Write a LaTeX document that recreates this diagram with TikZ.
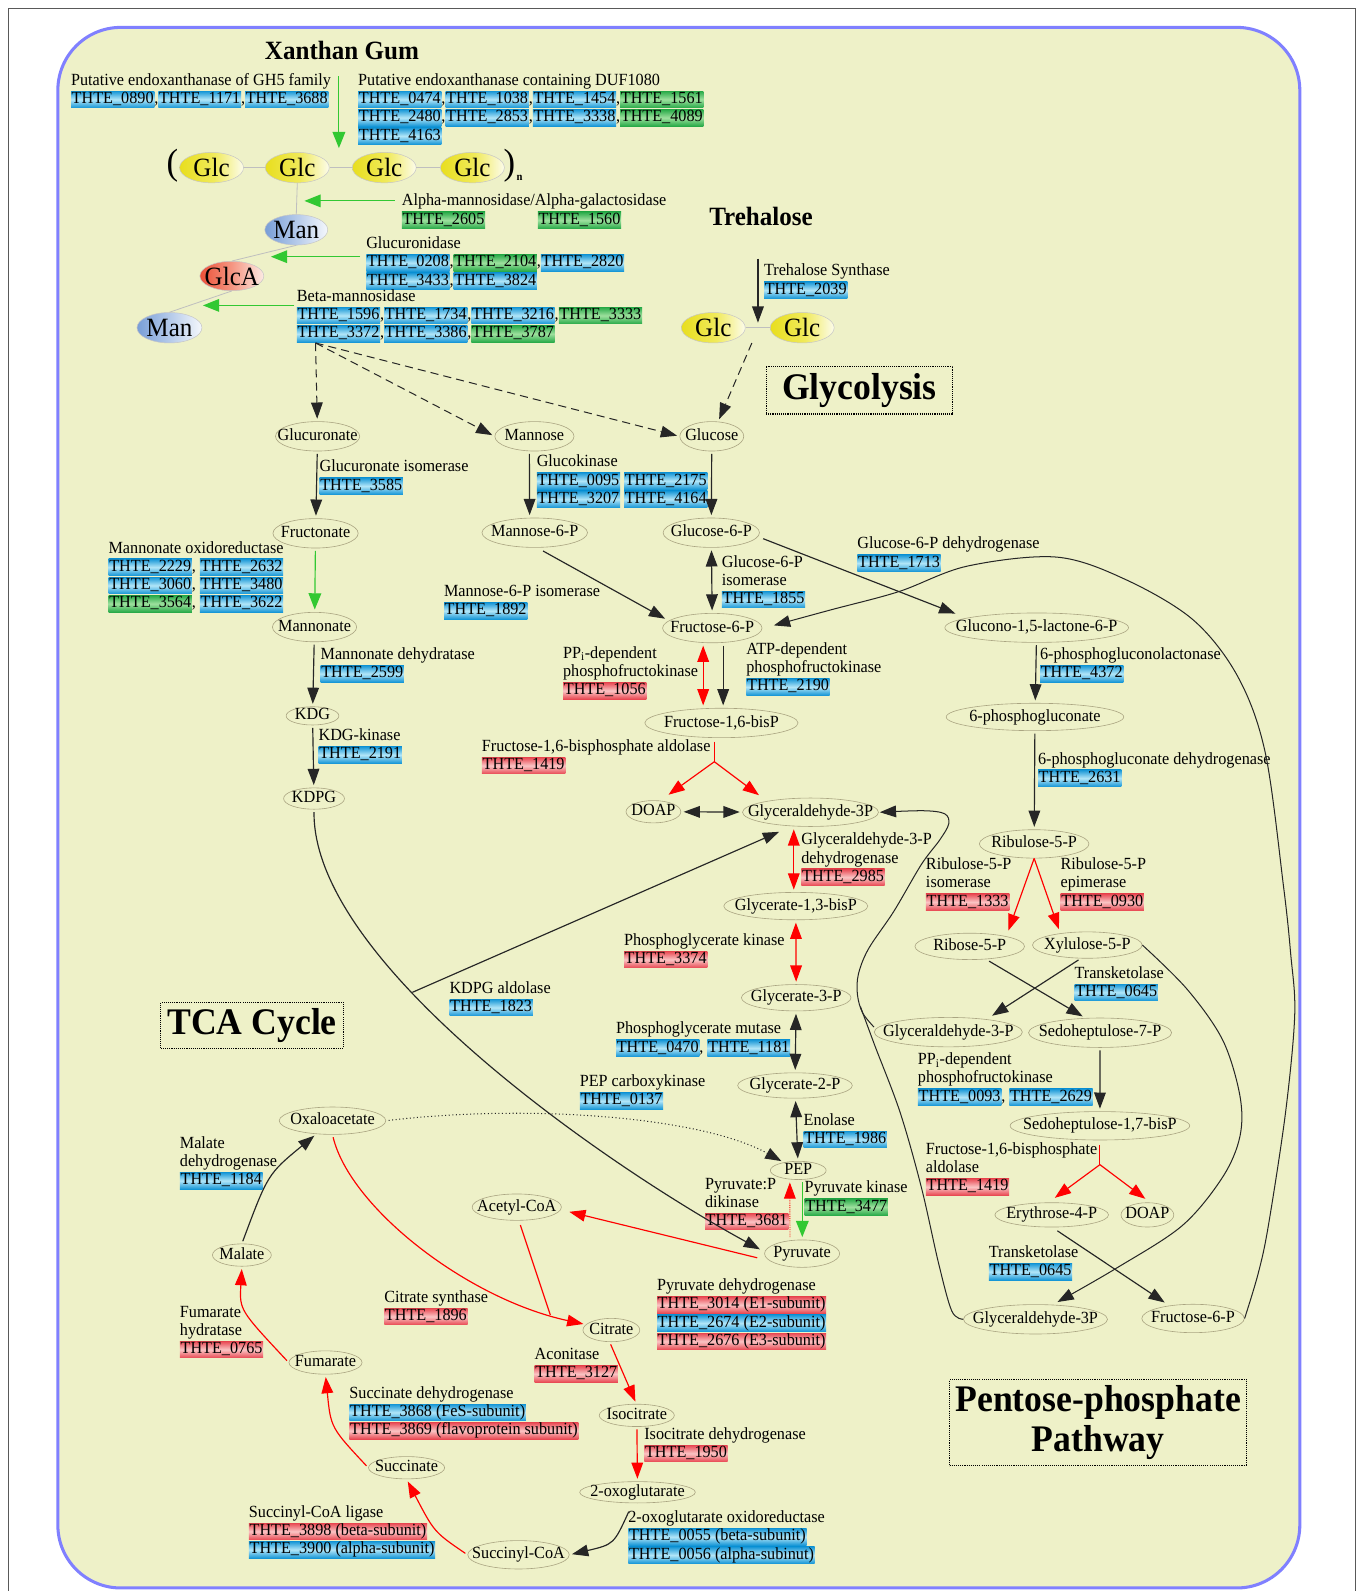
\documentclass[tikz,border=0pt]{standalone}
\usepackage{fontspec}
\setmainfont{Liberation Serif}[FakeStretch=0.95]
\usetikzlibrary{arrows.meta,shapes.geometric,calc}

\definecolor{bgc}{RGB}{238,241,200}
\definecolor{framec}{RGB}{128,128,255}
\definecolor{ellc}{RGB}{170,165,130}
\definecolor{gB}{RGB}{22,150,214}
\definecolor{gBl}{RGB}{178,230,248}
\definecolor{gR}{RGB}{232,72,82}
\definecolor{gRl}{RGB}{250,196,196}
\definecolor{gG}{RGB}{40,170,72}
\definecolor{gGl}{RGB}{158,224,158}
\definecolor{grn}{RGB}{50,200,50}
\definecolor{glcY}{RGB}{232,222,30}
\definecolor{glcY2}{RGB}{240,234,90}
\definecolor{glcW}{RGB}{252,252,235}
\definecolor{manB}{RGB}{120,158,215}
\definecolor{manB2}{RGB}{185,205,235}
\definecolor{manW}{RGB}{245,248,252}
\definecolor{glcaR}{RGB}{235,80,55}
\definecolor{glcaR2}{RGB}{245,150,130}
\definecolor{glcaW}{RGB}{252,235,228}

\pgfdeclarehorizontalshading{glcsh}{100bp}{color(0bp)=(glcY); color(25bp)=(glcY); color(52bp)=(glcY2); color(75bp)=(glcW); color(100bp)=(glcW)}
\pgfdeclarehorizontalshading{mansh}{100bp}{color(0bp)=(manB); color(25bp)=(manB); color(52bp)=(manB2); color(75bp)=(manW); color(100bp)=(manW)}
\pgfdeclarehorizontalshading{glcash}{100bp}{color(0bp)=(glcaR); color(25bp)=(glcaR); color(50bp)=(glcaR2); color(75bp)=(glcaW); color(100bp)=(glcaW)}

\newcommand{\lblfont}{\fontsize{16.8pt}{18pt}\selectfont}
\newcommand{\sugfont}{\fontsize{26pt}{28pt}\selectfont}
\newcommand{\ttlfont}{\fontsize{37pt}{39pt}\selectfont\bfseries}
\newcommand{\hdfont}{\fontsize{26pt}{28pt}\selectfont\bfseries}
\newcommand{\geneX}[2]{\tikz[baseline=(gbx.base)]\node[genebox,#1](gbx){THTE\_#2};}
\newcommand{\geneB}[1]{\geneX{gblue}{#1}}
\newcommand{\geneR}[1]{\geneX{gred}{#1}}
\newcommand{\geneG}[1]{\geneX{ggreen}{#1}}

\tikzset{
 genebox/.style={rectangle, anchor=base, inner xsep=0.7pt, inner ysep=0.6pt, outer sep=0pt, text height=11.6pt, text depth=3.6pt, draw=none},
 gblue/.style={top color=gB, bottom color=gB, middle color=gBl},
 gred/.style={top color=gR, bottom color=gR, middle color=gRl},
 ggreen/.style={top color=gG, bottom color=gG, middle color=gGl},
 lbl/.style={anchor=north west, inner sep=0pt, outer sep=0pt, align=left, font=\lblfont, yshift=12.6pt},
 met/.style={ellipse, draw=ellc, line width=0.6pt, font=\lblfont, inner xsep=-40pt, inner ysep=-8pt, text height=11pt, text depth=3pt, minimum height=28pt},
 sugar/.style={ellipse, draw=gray!45, line width=0.5pt, font=\sugfont, inner xsep=-20pt, inner ysep=-10pt, minimum width=63pt, minimum height=30pt, shade},
 ttlbox/.style={draw=black, densely dotted, line width=1.1pt, font=\ttlfont, inner sep=0pt, align=center},
 arr/.style={draw=black!85, line width=1.15pt, -{Triangle[length=16pt,width=11.5pt]}, shorten >=2.5pt, shorten <=2.5pt},
 darr/.style={arr, {Triangle[length=16pt,width=11.5pt]}-{Triangle[length=16pt,width=11.5pt]}},
 redarr/.style={arr, draw=red},
 reddarr/.style={darr, draw=red},
 grnarr/.style={arr, draw=grn, -{Triangle[length=16pt,width=12.5pt]}},
 dasharr/.style={arr, dash pattern=on 8pt off 5pt, line width=1pt},
 dotarr/.style={arr, line width=1pt, dash pattern=on 1pt off 2.5pt},
 reddot/.style={arr, draw=red, line width=0.8pt, densely dotted},
 redline/.style={draw=red, line width=1.15pt},
 blkline/.style={draw=black!85, line width=1.1pt},
 glink/.style={draw=gray!50, line width=0.8pt},
}

\begin{document}
\begin{tikzpicture}[x=1pt,y=-1pt]
\useasboundingbox (0,0) rectangle (1340,1568);
\fill[white] (0,0) rectangle (1340,1568);
\draw[draw=black!65, line width=1pt] (8,1568) -- (8,8) -- (1336,8) -- (1336,1568);
\draw[line width=3pt, draw=framec, fill=bgc, rounded corners=62pt] (57,27) rectangle (1281,1565);

% ---------- titles ----------
\node[font=\hdfont] (txg) at (337,50) {Xanthan Gum};
\node[font=\hdfont] (ttre) at (750,213) {Trehalose};
\node[ttlbox, minimum width=184pt, minimum height=47pt] (tglyc) at (847,384.5) {Glycolysis};
\node[ttlbox, minimum width=180pt, minimum height=45pt] (ttca) at (248.5,1010.4) {TCA Cycle};
\node[ttlbox, minimum width=293pt, minimum height=85pt] (tppp) at (1082.3,1402.2) {Pentose-phosphate\\Pathway};

% ---------- xanthan sugars ----------
\node[font=\fontsize{36pt}{38pt}\selectfont, inner sep=0pt] (lpar) at (170,163) {(};
\node[font=\fontsize{36pt}{38pt}\selectfont, inner sep=0pt] (rpar) at (502,163) {)};
\node[font=\bfseries\fontsize{11pt}{12pt}\selectfont, inner sep=0pt] (nsub) at (512,175) {n};
\node[sugar, shading=glcsh] (x1) at (208.5,165.2) {Glc};
\node[sugar, shading=glcsh] (x2) at (293,165.2) {Glc};
\node[sugar, shading=glcsh] (x3) at (378.7,165.2) {Glc};
\node[sugar, shading=glcsh] (x4) at (465.6,165.2) {Glc};
\node[sugar, shading=mansh, minimum width=62pt] (xm1) at (292,226.5) {Man};
\node[sugar, shading=glcash, minimum height=29pt] (xga) at (228.5,272) {GlcA};
\node[sugar, shading=mansh, minimum width=64pt] (xm2) at (167,323) {Man};
\node[sugar, shading=glcsh] (tg1) at (703,323) {Glc};
\node[sugar, shading=glcsh] (tg2) at (790.6,323) {Glc};

\draw[glink] (x1.east) -- (x2.west);
\draw[glink] (x2.east) -- (x3.west);
\draw[glink] (x3.east) -- (x4.west);
\draw[glink] (x2.south) -- (xm1.north);
\draw[glink] (xm1.south) -- (xga.north);
\draw[glink] (xga.south) -- (xm2.north);
\draw[glink] (tg1.east) -- (tg2.west);

% ---------- metabolites ----------
\node[met,minimum width=83pt,minimum height=29pt] (glcn) at (313,430) {Glucuronate};
\node[met,minimum width=78pt,minimum height=29pt] (man) at (526.7,430) {Mannose};
\node[met,minimum width=63pt,minimum height=29pt] (glu) at (701.5,430) {Glucose};
\node[met,minimum width=84pt,minimum height=29pt] (frn) at (311,525.6) {Fructonate};
\node[met,minimum width=104pt,minimum height=29pt] (m6p) at (527,525) {Mannose-6-P};
\node[met,minimum width=95pt,minimum height=29pt] (g6p) at (701,525) {Glucose-6-P};
\node[met,minimum width=83pt,minimum height=29pt] (mnn) at (310,618) {Mannonate};
\node[met,minimum width=98pt,minimum height=29pt] (f6p) at (702,619) {Fructose-6-P};
\node[met,minimum width=52pt,minimum height=18pt] (kdg) at (308,705.5) {KDG};
\node[met,minimum width=60pt,minimum height=21pt] (kdpg) at (309.5,787) {KDPG};
\node[met,minimum width=151pt,minimum height=29pt] (f16) at (711,712.5) {Fructose-1,6-bisP};
\node[met,minimum width=54pt,minimum height=22pt] (doap) at (644,800) {DOAP};
\node[met,minimum width=134pt,minimum height=28pt] (gap) at (798.8,800.5) {Glyceraldehyde-3P};
\node[met,minimum width=142pt,minimum height=27pt] (g13) at (784.3,893) {Glycerate-1,3-bisP};
\node[met,minimum width=108pt,minimum height=26pt] (g3p) at (784.7,983.3) {Glycerate-3-P};
\node[met,minimum width=113pt,minimum height=25pt] (g2p) at (783.5,1069.8) {Glycerate-2-P};
\node[met,minimum width=55pt,minimum height=18pt] (pep) at (786.7,1153.5) {PEP};
\node[met,minimum width=74pt,minimum height=27pt] (pyr) at (790.5,1235.5) {Pyruvate};
\node[met,minimum width=181pt,minimum height=29pt] (glcl) at (1021.7,618.6) {Glucono-1,5-lactone-6-P};
\node[met,minimum width=175pt,minimum height=27pt] (pg) at (1020,706.6) {6-phosphogluconate};
\node[met,minimum width=108pt,minimum height=28pt] (ru5p) at (1019.2,831.7) {Ribulose-5-P};
\node[met,minimum width=108pt,minimum height=26pt] (r5p) at (955.7,932.7) {Ribose-5-P};
\node[met,minimum width=108pt,minimum height=26pt] (x5p) at (1071.6,931.4) {Xylulose-5-P};
\node[met,minimum width=146pt,minimum height=29pt] (gapa) at (934.6,1017.2) {Glyceraldehyde-3-P};
\node[met,minimum width=141pt,minimum height=29pt] (s7p) at (1084.2,1017.8) {Sedoheptulose-7-P};
\node[met,minimum width=177pt,minimum height=28pt] (s17) at (1084,1109.5) {Sedoheptulose-1,7-bisP};
\node[met,minimum width=112pt,minimum height=24pt] (e4p) at (1036.5,1197.3) {Erythrose-4-P};
\node[met,minimum width=52pt,minimum height=24pt] (doapb) at (1130.8,1197.3) {DOAP};
\node[met,minimum width=142pt,minimum height=29pt] (gapb) at (1020.5,1300.2) {Glyceraldehyde-3P};
\node[met,minimum width=101pt,minimum height=28pt] (f6pb) at (1175.8,1299.4) {Fructose-6-P};
\node[met,minimum width=105pt,minimum height=27pt] (oaa) at (327.7,1104.5) {Oxaloacetate};
\node[met,minimum width=88pt,minimum height=26pt] (acoa) at (509.3,1189.7) {Acetyl-CoA};
\node[met,minimum width=56pt,minimum height=23pt] (cit) at (602.5,1310.8) {Citrate};
\node[met,minimum width=74pt,minimum height=22pt] (icit) at (627.6,1394.9) {Isocitrate};
\node[met,minimum width=114pt,minimum height=21pt] (og) at (628.3,1470.7) {2-oxoglutarate};
\node[met,minimum width=100pt,minimum height=28pt] (scoa) at (511,1532.3) {Succinyl-CoA};
\node[met,minimum width=75pt,minimum height=22pt] (suc) at (400.7,1446.5) {Succinate};
\node[met,minimum width=72pt,minimum height=23pt] (fum) at (320.8,1342.8) {Fumarate};
\node[met,minimum width=58pt,minimum height=22pt] (mal) at (238.4,1236.9) {Malate};

% ---------- enzyme labels ----------
\node[lbl] (lgh5) at (70,84) {\strut Putative endoxanthanase of GH5 family\\\geneB{0890},\geneB{1171},\geneB{3688}};
\node[lbl] (lduf) at (353,84) {\strut Putative endoxanthanase containing DUF1080\\\geneB{0474},\geneB{1038},\geneB{1454},\geneG{1561}\\\geneB{2480},\geneB{2853},\geneB{3338},\geneG{4089}\\\geneB{4163}};
\node[lbl] (lamg) at (396,203) {\strut Alpha-mannosidase/Alpha-galactosidase\\\geneG{2605}\hspace{52pt}\geneG{1560}};
\node[lbl] (lgcu) at (361,245) {\strut Glucuronidase\\\geneB{0208},\geneG{2104},\geneB{2820}\\\geneB{3433},\geneB{3824}};
\node[lbl] (lbman) at (292.5,297) {\strut Beta-mannosidase\\\geneB{1596},\geneB{1734},\geneB{3216},\geneG{3333}\\\geneB{3372},\geneB{3386},\geneG{3787}};
\node[lbl] (ltre) at (753,272) {\strut Trehalose Synthase\\\geneB{2039}};
\node[lbl] (lgci) at (315,465) {\strut Glucuronate isomerase\\\geneB{3585}};
\node[lbl] (lmor) at (107,545) {\strut Mannonate oxidoreductase\\\geneB{2229}, \geneB{2632}\\\geneB{3060}, \geneB{3480}\\\geneG{3564}, \geneB{3622}};
\node[lbl] (lmdh) at (316,650) {\strut Mannonate dehydratase\\\geneB{2599}};
\node[lbl] (lkdgk) at (314,730) {\strut KDG-kinase\\\geneB{2191}};
\node[lbl] (lkdpga) at (443,979) {\strut KDPG aldolase\\\geneB{1823}};
\node[lbl] (lgk) at (529,460) {\strut Glucokinase\\\geneB{0095}\hspace{4pt}\geneB{2175}\\\geneB{3207}\hspace{4pt}\geneB{4164}};
\node[lbl] (lm6pi) at (437.6,588) {\strut Mannose-6-P isomerase\\\geneB{1892}};
\node[lbl] (lg6pi) at (711.5,559) {\strut Glucose-6-P\\isomerase\\\geneB{1855}};
\node[lbl] (lg6pdh) at (845,541) {\strut Glucose-6-P dehydrogenase\\\geneB{1713}};
\node[lbl] (lpfk1) at (555,648.7) {\strut PP\textsubscript{i}-dependent\\phosphofructokinase\\\geneR{1056}};
\node[lbl] (lpfk2) at (735.6,645) {\strut ATP-dependent\\phosphofructokinase\\\geneB{2190}};
\node[lbl] (lald1) at (475,740.6) {\strut Fructose-1,6-bisphosphate aldolase\\\geneR{1419}};
\node[lbl] (lgapdh) at (789.8,832.6) {\strut Glyceraldehyde-3-P\\dehydrogenase\\\geneR{2985}};
\node[lbl] (lpgk) at (615,931.7) {\strut Phosphoglycerate kinase\\\geneR{3374}};
\node[lbl] (lpgm) at (607.2,1019) {\strut Phosphoglycerate mutase\\\geneB{0470}, \geneB{1181}};
\node[lbl] (lpepck) at (571.4,1071) {\strut PEP carboxykinase\\\geneB{0137}};
\node[lbl] (leno) at (792,1109) {\strut Enolase\\\geneB{1986}};
\node[lbl] (lppdk) at (694.8,1172) {\strut Pyruvate:P\\dikinase\\\geneR{3681}};
\node[lbl] (lpk) at (793,1175.5) {\strut Pyruvate kinase\\\geneG{3477}};
\node[lbl] (lpdh) at (647.5,1272) {\strut Pyruvate dehydrogenase\\\geneR{3014 (E1-subunit)}\\\geneB{2674 (E2-subunit)}\\\geneR{2676 (E3-subunit)}};
\node[lbl] (l6pgl) at (1025,650) {\strut 6-phosphogluconolactonase\\\geneB{4372}};
\node[lbl] (l6pgdh) at (1023,753) {\strut 6-phosphogluconate dehydrogenase\\\geneB{2631}};
\node[lbl] (lrpi) at (912.6,857) {\strut Ribulose-5-P\\isomerase\\\geneR{1333}};
\node[lbl] (lrpe) at (1045.3,857) {\strut Ribulose-5-P\\epimerase\\\geneR{0930}};
\node[lbl] (ltk1) at (1059,964) {\strut Transketolase\\\geneB{0645}};
\node[lbl] (lpfk3) at (904.7,1049.3) {\strut PP\textsubscript{i}-dependent\\phosphofructokinase\\\geneB{0093}, \geneB{2629}};
\node[lbl] (lald2) at (912.5,1137.7) {\strut Fructose-1,6-bisphosphate\\aldolase\\\geneR{1419}};
\node[lbl] (ltk2) at (974.6,1239.3) {\strut Transketolase\\\geneB{0645}};
\node[lbl] (lcs) at (378.7,1283.5) {\strut Citrate synthase\\\geneR{1896}};
\node[lbl] (lacn) at (526.9,1340) {\strut Aconitase\\\geneR{3127}};
\node[lbl] (lidh) at (635,1418.4) {\strut Isocitrate dehydrogenase\\\geneR{1950}};
\node[lbl] (logor) at (619.3,1500.6) {\strut 2-oxoglutarate oxidoreductase\\\geneB{0055 (beta-subunit)}\\\geneB{0056 (alpha-subinut)}};
\node[lbl] (lscl) at (245.3,1495.3) {\strut Succinyl-CoA ligase\\\geneR{3898 (beta-subunit)}\\\geneB{3900 (alpha-subunit)}};
\node[lbl] (lsdh) at (344.4,1378) {\strut Succinate dehydrogenase\\\geneB{3868 (FeS-subunit)}\\\geneR{3869 (flavoprotein subunit)}};
\node[lbl] (lfum) at (177.3,1298.1) {\strut Fumarate\\hydratase\\\geneR{0765}};
\node[lbl] (lmdh2) at (177.3,1131.6) {\strut Malate\\dehydrogenase\\\geneB{1184}};

% ---------- xanthan / trehalose connectors ----------
\coordinate (ga1s) at (334,75);  \coordinate (ga1e) at (334,146);
\coordinate (ga2s) at (389,198); \coordinate (ga2e) at (300,198);
\coordinate (ga3s) at (355,253); \coordinate (ga3e) at (267,253);
\coordinate (ga4s) at (290,301); \coordinate (ga4e) at (200,301);
\draw[grnarr, shorten <=0pt, shorten >=0pt] (ga1s) -- (ga1e);
\draw[grnarr, shorten <=0pt, shorten >=0pt] (ga2s) -- (ga2e);
\draw[grnarr, shorten <=0pt, shorten >=0pt] (ga3s) -- (ga3e);
\draw[grnarr, shorten <=0pt, shorten >=0pt] (ga4s) -- (ga4e);
\coordinate (dsrc) at (311,338);
\draw[dasharr, shorten <=0pt] (dsrc) -- (glcn);
\draw[dasharr, shorten <=0pt] (dsrc) -- (man.west);
\draw[dasharr, shorten <=0pt] (dsrc) -- (glu.west);
\coordinate (tas) at (747,255); \coordinate (tae) at (747,318);
\draw[arr, shorten <=0pt, shorten >=0pt] (tas) -- (tae);
\coordinate (tdash) at (741,338);
\draw[dasharr, shorten <=0pt] (tdash) -- (glu);

% ---------- glycolysis ----------
\draw[arr] (glcn) -- (frn);
\draw[grnarr] (frn) -- (mnn);
\draw[arr] (mnn) -- (kdg);
\draw[arr] (kdg) -- (kdpg);
\draw[arr] (kdpg.south) .. controls (308,950) and (600,1150) .. ($(pyr.west)+(-2,-3)$) coordinate[pos=0.37] (split);
\draw[arr, shorten <=0pt, shorten >=0pt] (split) -- ($(gap.south)+(-31,5)$);
\draw[arr] ($(man.south)+(-5,0)$) -- ($(m6p.north)+(-5,0)$);
\draw[arr] (glu) -- (g6p);
\draw[arr] ($(m6p.south)+(6,2)$) -- ($(f6p.west)+(5,-8)$);
\draw[darr] (g6p) -- (f6p);
\draw[arr] ($(g6p.east)+(1,5)$) -- ($(glcl.west)+(13,-13)$);
\draw[reddarr] ($(f6p.south)+(-9,0)$) -- ($(f16.north)+(-18,0)$);
\draw[arr] ($(f6p.south)+(10.7,0)$) -- ($(f16.north)+(1.7,0)$);
\coordinate (ald1) at ($(f16.south)+(-7,23.4)$);
\draw[redline] ($(f16.south)+(-7,3.7)$) -- (ald1);
\draw[redarr, shorten <=0pt] (ald1) -- ($(doap.north)+(12.8,-4)$);
\draw[redarr, shorten <=0pt] (ald1) -- ($(gap.north)+(-48.8,-1)$);
\draw[darr] (doap) -- (gap);
\draw[reddarr] ($(gap.south)+(-16.5,0)$) -- ($(g13.north)+(-2,0)$);
\draw[reddarr] (g13) -- (g3p);
\draw[darr] (g3p) -- (g2p);
\draw[darr] (g2p) -- (pep);
\draw[grnarr] ($(pep.south)+(4,0)$) -- ($(pyr.north)+(0.2,0)$);
\draw[reddot] ($(pyr.north)+(-12,0)$) -- ($(pep.south)+(-8.3,0)$);
\draw[dotarr] (oaa.east) .. controls (520,1088) and (690,1100) .. (pep);

% ---------- TCA ----------
\draw[redarr] ($(pyr.west)+(-4.5,4.7)$) -- ($(acoa.east)+(5,4)$);
\draw[redarr] (oaa.south) .. controls (345,1190) and (460,1280) .. (cit) coordinate[pos=0.9] (csj);
\draw[redline] ($(acoa.south)+(3.5,4.3)$) -- (csj);
\draw[redarr] ($(cit.south)+(-1.7,0)$) -- ($(icit.north)+(-0.4,0)$);
\draw[redarr] (icit) -- (og);
\draw[arr] ($(og.south)+(-7.6,6)$) .. controls (605,1522) .. (scoa.east);
\draw[redarr] (scoa.west) .. controls (428,1510) .. (suc.south);
\draw[redarr] (suc.west) .. controls (326,1407) .. (fum.south);
\draw[redarr] (fum.west) .. controls (236,1291) .. (mal.south);
\draw[arr] (mal.north) .. controls (264,1157) .. (oaa);

% ---------- pentose phosphate ----------
\draw[arr] (glcl) -- (pg);
\draw[arr] (pg) -- (ru5p);
\draw[redarr, shorten <=0pt] (ru5p.south) -- ($(r5p.north)+(37.3,0)$);
\draw[redarr, shorten <=0pt] (ru5p.south) -- ($(x5p.north)+(-27.2,0)$);
\draw[arr] ($(r5p.south)+(17,0)$) -- ($(s7p.north)+(-15,0)$);
\draw[arr] ($(x5p.south)+(-6.6,0)$) -- ($(gapa.north)+(41,0)$);
\draw[arr] (s7p) -- (s17);
\coordinate (ald2) at ($(s17.south)+(0,24)$);
\draw[redline] ($(s17.south)+(0,4.5)$) -- (ald2);
\draw[redarr, shorten <=0pt] (ald2) -- ($(e4p.north)+(1,-3)$);
\draw[redarr, shorten <=0pt] (ald2) -- ($(doapb.north)+(0,-2)$);
\draw[arr] ($(e4p.south)+(3.5,2)$) -- ($(f6pb.north)+(-25.8,0)$);
\draw[arr, line width=1pt, shorten <=0pt] plot[smooth, tension=0.55] coordinates {(x5p.east) (1170,975) (1205,1025) (1222,1080) (1222,1120) (1205,1160) (1165,1208) (1100,1250) ($(gapb.north)+(19.5,-1)$)};
\draw[arr, line width=1pt, shorten <=0pt] plot[smooth, tension=0.55] coordinates {(f6pb.east) (1240,1255) (1250,1208) (1267,1096) (1276,1000) (1272,940) (1265,874) (1247,742) (1220,667) (1176,611) (1109,571) (1041,549) (953,558) (886,583) (819,601) ($(f6p.east)+(9,-2)$)};
\draw[arr, line width=1pt, shorten <=0pt, shorten >=0pt] plot[smooth, tension=0.55] coordinates {($(gapa.west)+(0,-5)$) (850,998) (845,980) (846,960) (856,935) (881,898) (908,852) (926,828) (935,812) (931,802) (910,799) ($(gap.east)+(1,0)$)};
\draw[blkline, line width=1pt] plot[smooth, tension=0.55] coordinates {(gapb.west) (938,1292) (925,1245) (908,1170) (887,1096) (862,1030) (848,992)};
\end{tikzpicture}
\end{document}
